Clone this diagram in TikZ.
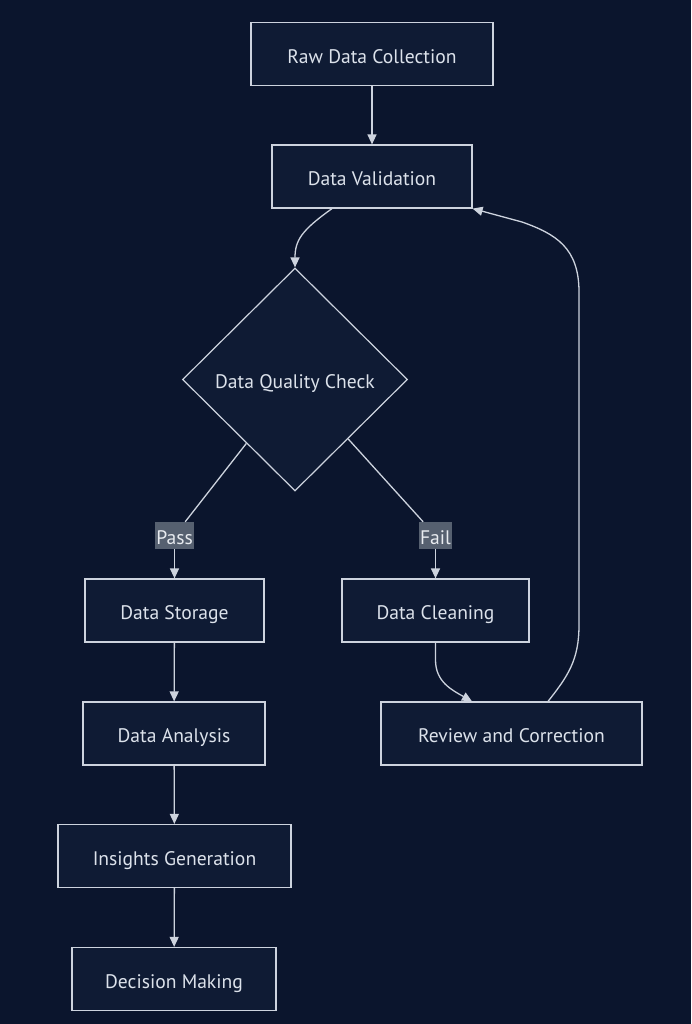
\documentclass[tikz,border=0pt]{standalone}
\usepackage{fontspec}
\setmainfont{PT Sans}
\usetikzlibrary{shapes.geometric,arrows.meta,calc}
\definecolor{bg}{HTML}{0B152D}
\definecolor{nodefill}{HTML}{0F1B34}
\definecolor{edge}{HTML}{CDD3DE}
\definecolor{txt}{HTML}{DCE2EB}
\definecolor{lblbg}{HTML}{566070}
\definecolor{lbltxt}{HTML}{E8EBF0}
\tikzset{
  basefont/.style={font=\fontsize{19.6}{22}\selectfont, text height=18.6pt, text depth=0pt},
  box/.style={basefont, draw=edge, fill=nodefill, line width=1.2pt, text=txt, inner sep=0pt,
    minimum height=63pt},
  decision/.style={basefont, diamond, draw=edge, fill=nodefill, line width=1.2pt, text=txt, inner sep=0pt,
    minimum width=225pt, minimum height=223pt},
  lbl/.style={basefont, fill=lblbg, text=lbltxt, inner xsep=1pt, inner ysep=1pt, minimum height=27pt},
  conn/.style={draw=edge, line width=1.3pt, -{Triangle[length=10pt,width=9pt]}},
  plain/.style={draw=edge, line width=1.3pt}
}
\begin{document}
\begin{tikzpicture}[x=1pt,y=-1pt]
\fill[bg] (0,0) rectangle (691,1024);
\useasboundingbox (0,0) rectangle (691,1024);

\node[box, minimum width=242pt] (raw) at (372,54) {Raw Data Collection};
\node[box, minimum width=200pt] (val) at (372,176.5) {Data Validation};
\node[decision] (dq) at (295,379.5) {Data Quality Check};
\node[box, minimum width=179pt] (stor) at (174.5,610.5) {Data Storage};
\node[box, minimum width=187pt] (clean) at (435.5,610.5) {Data Cleaning};
\node[box, minimum width=182pt] (ana) at (174,733.5) {Data Analysis};
\node[box, minimum width=261pt] (rev) at (511.5,733.5) {Review and Correction};
\node[box, minimum width=233pt] (ins) at (174.5,856) {Insights Generation};
\node[box, minimum width=204pt] (dec) at (174,979) {Decision Making};

\node[lbl] (pass) at (174.5,535.5) {Pass};
\node[lbl] (fail) at (435.5,535.5) {Fail};

\coordinate (vs) at ($(val.south)+(-40,0)$);
\coordinate (dpl) at ($(dq.west)!0.57!(dq.south)$);
\coordinate (dpr) at ($(dq.east)!0.53!(dq.south)$);
\coordinate (rin) at ($(rev.north)+(-39.5,0)$);
\coordinate (rout) at ($(rev.north)+(36.5,0)$);

\draw[conn] (raw) -- (val);
\draw[conn] (vs) .. controls (302,230) and (295,240) .. (dq.north);
\draw[plain] (dpl) -- (pass);
\draw[conn] (pass) -- (stor);
\draw[plain] (dpr) -- (fail);
\draw[conn] (fail) -- (clean);
\draw[conn] (clean.south) -- (435.5,660) .. controls (435.5,682) and (452,690) .. (rin);
\draw[conn] (rout) .. controls (568,676) and (579,660) .. (579,625) -- (579,292)
  .. controls (579,248) and (556,234) .. (522,222) -- (val.south east);
\draw[conn] (stor) -- (ana);
\draw[conn] (ana) -- (ins);
\draw[conn] (ins) -- (dec);
\end{tikzpicture}
\end{document}
